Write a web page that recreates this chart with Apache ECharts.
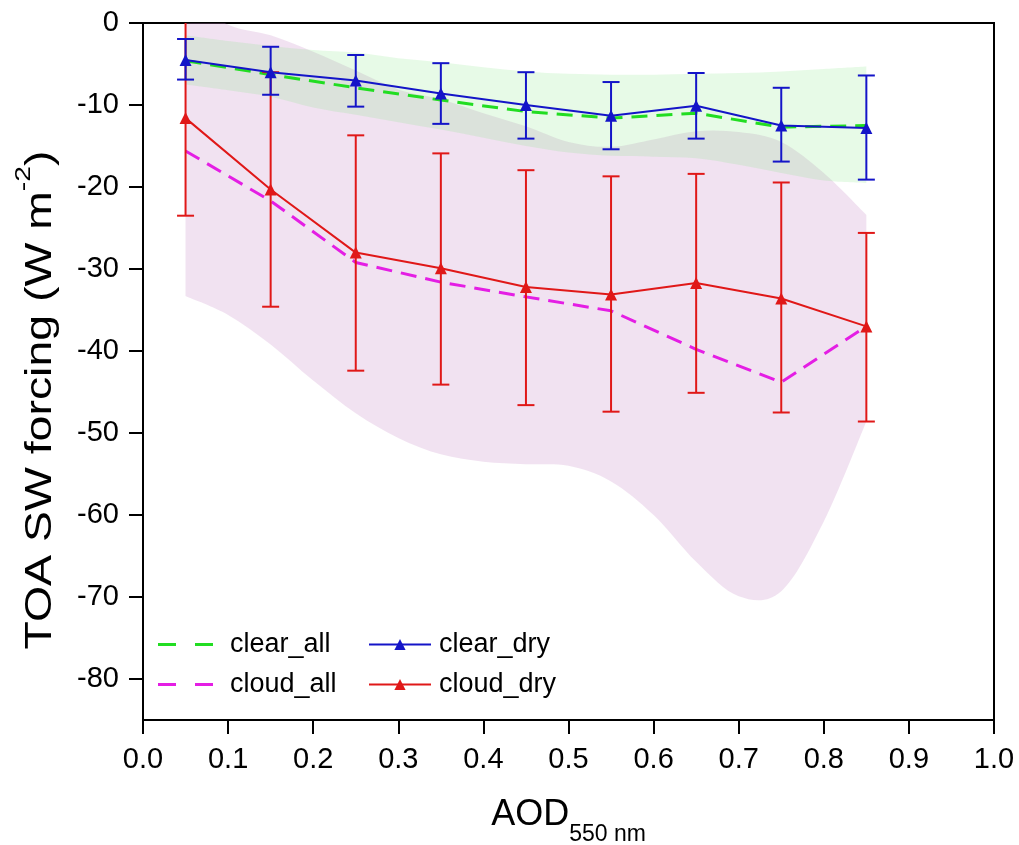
<!DOCTYPE html>
<html><head><meta charset="utf-8">
<script src="https://cdn.jsdelivr.net/npm/echarts@6/dist/echarts.min.js"></script>
<style>html,body{margin:0;padding:0;background:#fff}#c{width:1019px;height:845px}</style>
</head><body><div id="c"></div><script>
// ---- data ----
const aod = [0.05, 0.15, 0.25, 0.35, 0.45, 0.55, 0.65, 0.75, 0.85];
const clearAll = [-4.6, -6.3, -7.9, -9.4, -10.8, -11.6, -11.0, -12.7, -12.5];
const clearDry = [-4.5, -6.0, -7.0, -8.6, -10.0, -11.3, -10.1, -12.5, -12.8];
const clearDryHigh = [-1.95, -2.9, -3.9, -4.9, -6.0, -7.2, -6.1, -7.9, -6.4];
const clearDryLow = [-6.9, -8.75, -10.2, -12.3, -14.1, -15.4, -14.1, -16.9, -19.1];
const cloudAll = [-15.6, -21.7, -29.2, -31.6, -33.4, -35.1, -39.8, -43.8, -37.0];
const cloudDry = [-11.6, -20.3, -28.0, -29.9, -32.2, -33.1, -31.7, -33.6, -37.0];
const cloudDryHigh = [0.3, -6.0, -13.7, -15.9, -17.95, -18.7, -18.4, -19.45, -25.6];
const cloudDryLow = [-23.5, -34.6, -42.4, -44.1, -46.6, -47.4, -45.1, -47.5, -48.6];

const bandX = [0.05, 0.10, 0.15, 0.20, 0.25, 0.30, 0.35, 0.40, 0.45, 0.50, 0.55, 0.60, 0.65, 0.70, 0.75, 0.80, 0.85];
const clearBandUpper = [-1.5, -2.2, -2.8, -3.3, -3.6, -4.3, -4.8, -5.4, -5.9, -6.2, -6.3, -6.3, -6.2, -6.1, -5.9, -5.6, -5.3];
const clearBandLower = [-7.5, -8.2, -9.0, -10.3, -11.2, -12.1, -13.0, -14.0, -15.0, -15.8, -16.2, -16.3, -16.5, -17.3, -18.3, -19.2, -19.5];
const cloudBandUpper = [3.0, -0.2, -1.5, -3.5, -5.8, -8.1, -9.3, -11.0, -12.6, -14.5, -15.1, -14.2, -13.2, -13.3, -14.5, -18.3, -23.4];
const cloudBandLower = [-33.3, -35.6, -39.2, -43.6, -47.6, -50.6, -52.6, -53.5, -53.8, -54.0, -55.9, -60.0, -65.7, -69.9, -69.3, -60.8, -48.6];

const xTicks = [0.0, 0.1, 0.2, 0.3, 0.4, 0.5, 0.6, 0.7, 0.8, 0.9, 1.0];
const yTicks = [0, -10, -20, -30, -40, -50, -60, -70, -80];

const xTitle = '{m|AOD}{s|550 nm}';
const yTitle = '{m|TOA SW forcing (W m}{sup|-2}{m|)}';

// ---- chart ----
const FONT = 'Liberation Sans, Arial, Helvetica, sans-serif';
const BLUE = '#1414c8', RED = '#e01818', GREEN = '#22dd22', MAGENTA = '#e41ee4';

const zip = (xs, ys) => xs.map((x, i) => [x, ys[i]]);
const zip3 = (xs, a, b) => xs.map((x, i) => [x, a[i], b[i]]);

function errorBarSeries(name, color, lo, hi, z) {
  return {
    type: 'custom', name: name, silent: true, clip: true, z: z,
    encode: { x: 0, y: [1, 2] },
    data: zip3(aod, lo, hi),
    renderItem: function (params, api) {
      const x = api.value(0);
      const p1 = api.coord([x, api.value(1)]);
      const p2 = api.coord([x, api.value(2)]);
      const hw = 8.5;
      const st = { stroke: color, lineWidth: 2, fill: null };
      return {
        type: 'group',
        children: [
          { type: 'line', shape: { x1: p1[0], y1: p1[1], x2: p2[0], y2: p2[1] }, style: st },
          { type: 'line', shape: { x1: p1[0] - hw, y1: p1[1], x2: p1[0] + hw, y2: p1[1] }, style: st },
          { type: 'line', shape: { x1: p2[0] - hw, y1: p2[1], x2: p2[0] + hw, y2: p2[1] }, style: st }
        ]
      };
    }
  };
}

// smooth curve (Catmull-Rom as cubic Bezier) through screen points
function curvePath(pts, first) {
  const t = 1 / 6;
  let d = (first ? 'M' : 'L') + pts[0][0] + ',' + pts[0][1];
  for (let i = 0; i < pts.length - 1; i++) {
    const p0 = pts[Math.max(i - 1, 0)], p1 = pts[i], p2 = pts[i + 1], p3 = pts[Math.min(i + 2, pts.length - 1)];
    const c1x = p1[0] + (p2[0] - p0[0]) * t, c1y = p1[1] + (p2[1] - p0[1]) * t;
    const c2x = p2[0] - (p3[0] - p1[0]) * t, c2y = p2[1] - (p3[1] - p1[1]) * t;
    d += 'C' + c1x + ',' + c1y + ',' + c2x + ',' + c2y + ',' + p2[0] + ',' + p2[1];
  }
  return d;
}

function bandSeries(name, lower, upper, color, z) {
  return {
    type: 'custom', name: name, silent: true, clip: true, z: z,
    encode: { x: 0, y: [1, 2] },
    data: zip3(bandX, lower, upper),
    renderItem: function (params, api) {
      if (params.dataIndex !== 0) return;
      const up = bandX.map((x, i) => api.coord([x, upper[i]]));
      const lo = bandX.map((x, i) => api.coord([x, lower[i]])).reverse();
      const d = curvePath(up, true) + curvePath(lo, false) + 'Z';
      return { type: 'path', shape: { pathData: d }, style: { fill: color, stroke: null } };
    }
  };
}

const chart = echarts.init(document.getElementById('c'), null, { renderer: 'canvas' });
chart.setOption({
  animation: false,
  backgroundColor: '#fff',
  textStyle: { fontFamily: FONT },
  grid: {
    left: 143, right: 25, top: 23, bottom: 125, outerBoundsMode: 'none', containLabel: false,
    show: true, borderColor: '#000', borderWidth: 2, backgroundColor: 'transparent'
  },
  legend: [
    {
      data: [
        { name: 'clear_all', icon: 'path://M0,0h18v3h-18zM37,0h18v3h-18z' },
        { name: 'cloud_all', icon: 'path://M0,0h18v3h-18zM37,0h18v3h-18z' }
      ],
      orient: 'vertical', left: 153, top: 626,
      itemWidth: 55, itemHeight: 3, itemGap: 13,
      textStyle: { fontFamily: FONT, fontSize: 27, color: '#000', padding: [0, 0, 0, 12] }
    },
    {
      data: ['clear_dry', 'cloud_dry'], orient: 'vertical', left: 363, top: 626,
      itemWidth: 62, itemHeight: 14, itemGap: 13,
      textStyle: { fontFamily: FONT, fontSize: 27, color: '#000', padding: [0, 0, 0, 3] }
    }
  ],
  graphic: [
    {
      type: 'text', x: 36, y: 400, rotation: Math.PI / 2, scaleX: 1.29, silent: true,
      style: {
        text: yTitle, align: 'center', verticalAlign: 'middle', fill: '#000',
        rich: {
          m: { fontFamily: FONT, fontSize: 36, fill: '#000', verticalAlign: 'bottom', padding: [10, 0, 0, 0] },
          sup: { fontFamily: FONT, fontSize: 22, fill: '#000', verticalAlign: 'top' }
        }
      }
    }
  ],
  xAxis: {
    type: 'value', min: 0, max: 1,
    name: xTitle, nameLocation: 'middle', nameGap: 77,
    nameTextStyle: {
      color: '#000',
      rich: {
        m: { fontFamily: FONT, fontSize: 36, color: '#000', verticalAlign: 'bottom', padding: [0, 0, 13, 0] },
        s: { fontFamily: FONT, fontSize: 23, color: '#000', verticalAlign: 'bottom' }
      }
    },
    axisLine: { show: true, onZero: false, lineStyle: { color: '#000', width: 2 } },
    axisTick: { show: true, inside: false, length: 14, lineStyle: { color: '#000', width: 2 }, customValues: xTicks },
    axisLabel: { fontFamily: FONT, fontSize: 29, color: '#000', margin: 25, customValues: xTicks, formatter: v => v.toFixed(1) },
    splitLine: { show: false }
  },
  yAxis: {
    type: 'value', min: -85, max: 0,
    axisLine: { show: true, onZero: false, lineStyle: { color: '#000', width: 2 } },
    axisTick: { show: true, inside: false, length: 14, lineStyle: { color: '#000', width: 2 }, customValues: yTicks },
    axisLabel: { fontFamily: FONT, fontSize: 29, color: '#000', margin: 24, customValues: yTicks, formatter: v => String(v) },
    splitLine: { show: false }
  },
  series: [
    bandSeries('cloud_band', cloudBandLower, cloudBandUpper, 'rgba(200,140,200,0.25)', 1),
    bandSeries('clear_band', clearBandLower, clearBandUpper, 'rgba(120,230,120,0.18)', 2),
    {
      type: 'line', name: 'clear_all', data: zip(aod, clearAll), symbol: 'none', z: 5,
      itemStyle: { color: GREEN },
      lineStyle: { color: GREEN, width: 3, type: [16, 9] }
    },
    {
      type: 'line', name: 'cloud_all', data: zip(aod, cloudAll), symbol: 'none', z: 5,
      itemStyle: { color: MAGENTA },
      lineStyle: { color: MAGENTA, width: 3, type: [16, 9] }
    },
    errorBarSeries('cloud_dry_err', RED, cloudDryLow, cloudDryHigh, 6),
    {
      type: 'line', name: 'cloud_dry', data: zip(aod, cloudDry), symbol: 'triangle', symbolSize: 12, z: 7,
      itemStyle: { color: RED }, lineStyle: { color: RED, width: 2 }
    },
    errorBarSeries('clear_dry_err', BLUE, clearDryLow, clearDryHigh, 8),
    {
      type: 'line', name: 'clear_dry', data: zip(aod, clearDry), symbol: 'triangle', symbolSize: 12, z: 9,
      itemStyle: { color: BLUE }, lineStyle: { color: BLUE, width: 2 }
    }
  ]
});
</script></body></html>
